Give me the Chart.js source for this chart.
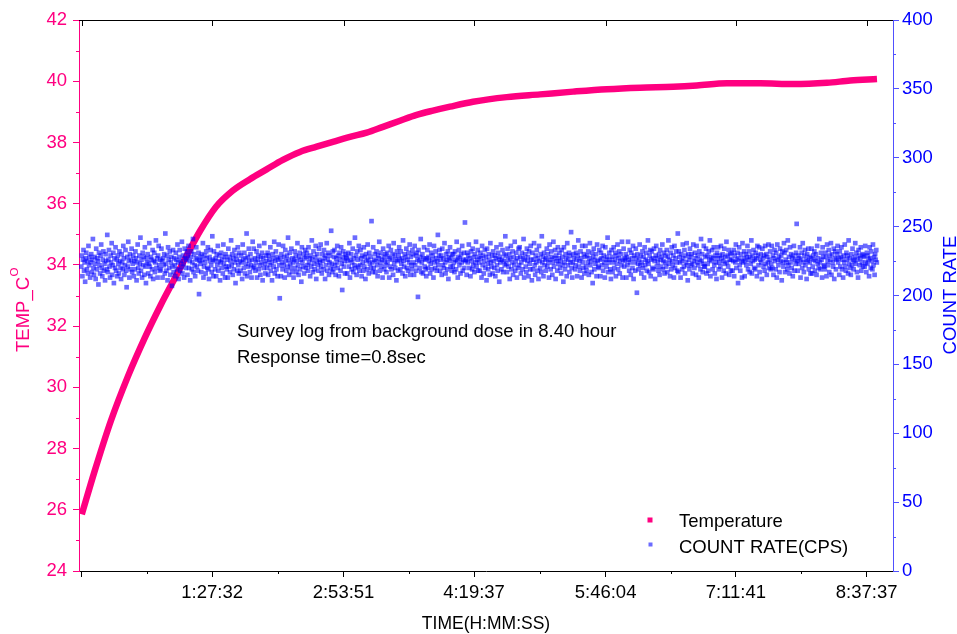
<!DOCTYPE html>
<html>
<head>
<meta charset="utf-8">
<script src="https://cdn.jsdelivr.net/npm/chart.js@4.4.1/dist/chart.umd.min.js"></script>
<style>
  body { margin: 0; background: #fff; }
</style>
</head>
<body>
<canvas id="surveyChart" width="957" height="634"></canvas>
<script>
// temperature readings (time in seconds since start, value in C)
const tempTimes = [110, 612, 1255, 1925, 2584, 3228, 3768, 4242, 4766, 5405, 6069, 6740, 7398, 8041, 8712, 9371,
  10014, 10685, 11344, 11987, 12658, 13317, 13960, 14631, 15538, 16868, 18182, 19484, 20814, 22127, 23430, 24365,
  25548, 26862, 28164, 29494, 30413, 31467];
const tempValues = [25.85, 27.25, 28.9, 30.35, 31.6, 32.7, 33.55, 34.3, 35.1, 35.9, 36.43, 36.8, 37.12, 37.43, 37.69, 37.86,
  38.02, 38.18, 38.32, 38.51, 38.71, 38.9, 39.04, 39.17, 39.33, 39.48, 39.57, 39.66, 39.74, 39.79, 39.82, 39.86,
  39.93, 39.93, 39.91, 39.95, 40.02, 40.07];

// count rate log, one reading every countInterval seconds
const countStart = 90;
const countInterval = 21.8;
const countValues = [
  221,229,214,226,233,218,224,210,227,231,219,225,216,236,222,228,213,224,230,217,226,241,220,215,
  228,223,212,234,219,227,225,208,231,222,216,229,237,220,214,226,232,218,223,211,230,225,219,244,
  217,226,233,221,213,229,224,238,215,222,231,209,227,220,235,218,226,214,229,223,216,232,225,220,
  212,230,224,219,236,227,215,222,233,218,206,228,221,239,225,213,230,219,226,234,217,223,229,214,
  225,219,232,227,211,224,237,220,216,229,223,242,218,226,213,231,222,228,215,235,221,209,227,224,
  230,216,223,238,221,214,228,226,219,233,212,225,231,217,224,240,220,227,213,229,236,222,218,226,
  219,234,225,213,227,222,230,216,245,223,218,229,211,235,226,220,232,215,224,228,207,221,233,217,
  227,222,214,231,226,219,237,224,212,228,233,218,225,221,239,216,229,223,213,234,227,220,226,232,
  215,229,236,220,225,211,228,232,219,224,241,217,230,222,214,227,235,221,226,218,231,201,225,228,
  223,217,230,226,238,213,221,229,224,216,232,227,220,235,219,212,228,225,233,222,217,243,226,214,
  232,225,219,227,214,230,222,236,218,225,229,211,224,231,220,226,216,237,223,228,213,230,221,219,
  226,213,234,221,228,217,225,240,222,230,215,227,219,233,224,209,229,226,218,235,222,216,231,225,
  218,229,224,212,237,226,220,231,216,227,223,245,214,228,221,234,225,217,230,222,213,226,239,220,
  234,221,227,218,224,232,213,226,229,219,236,222,215,228,224,231,211,227,220,238,223,216,229,225,
  220,231,215,229,226,222,235,218,224,211,230,227,221,239,216,225,232,219,228,214,226,237,222,198,
  227,214,230,224,219,236,222,228,213,233,225,218,229,221,242,226,215,231,223,220,234,217,227,224,
  213,226,232,220,229,217,225,238,222,215,228,231,219,226,210,235,224,221,230,216,227,233,220,228,
  231,222,218,235,224,227,214,229,221,240,226,217,232,223,219,228,236,212,225,230,222,218,234,226,
  224,237,221,216,230,225,219,233,227,212,229,222,238,218,226,231,215,224,229,220,247,223,217,232,
  219,228,233,222,215,227,224,236,220,229,214,231,226,218,235,223,204,228,232,221,225,216,230,227,
  228,216,225,231,221,238,213,226,230,219,224,234,217,227,222,242,220,229,215,232,226,221,236,218,
  222,233,227,214,229,224,218,235,221,228,212,230,225,219,237,226,216,231,223,228,220,254,224,217,
  235,220,226,230,217,225,232,222,214,229,227,239,218,224,231,221,226,213,234,228,219,225,230,222,
  217,231,224,228,236,213,227,221,233,219,226,230,215,238,223,229,220,226,211,232,225,218,229,235,
  226,219,232,223,227,216,240,225,221,230,214,228,234,220,226,218,231,224,237,215,228,222,219,233,
  230,224,215,236,222,229,218,231,226,199,233,225,220,228,241,217,224,230,216,227,235,221,226,219,
  214,227,233,220,228,225,237,216,223,231,219,226,229,213,236,224,220,232,227,218,225,244,222,229,
  233,218,226,229,215,234,222,227,220,238,224,216,230,226,219,232,212,228,225,235,221,227,218,230,
  221,230,224,217,232,226,219,239,225,213,228,233,222,227,216,230,224,236,218,226,231,220,253,225,
  226,215,231,224,229,237,220,227,214,232,225,219,234,222,228,217,230,224,239,221,226,233,218,228,
  224,218,231,227,213,236,222,229,216,225,233,220,228,211,234,223,219,230,226,215,238,224,221,229,
  216,232,225,220,229,214,227,235,222,218,231,226,210,228,224,237,219,226,233,217,225,230,222,243,
  229,223,217,234,226,221,230,212,227,236,219,224,232,215,228,222,239,218,225,231,213,227,220,234,
  222,235,228,216,224,231,219,227,241,213,226,230,221,217,234,225,228,214,232,223,219,236,226,211,
  231,219,226,238,222,215,229,224,233,218,227,212,236,225,220,230,217,243,224,228,214,231,222,226,
  218,227,234,221,230,224,213,237,226,219,232,228,215,224,239,221,227,233,212,229,225,218,235,223,
  227,231,220,225,216,233,228,222,210,235,224,219,230,227,214,238,222,226,231,217,229,224,246,220,
  213,224,230,227,235,219,222,231,226,214,229,240,221,225,218,232,227,213,236,224,220,230,216,228,
  236,221,218,229,224,232,215,227,238,222,225,217,231,209,228,234,219,226,223,230,214,237,225,221,
  220,233,226,214,231,227,222,236,218,229,224,213,235,226,221,228,242,217,224,231,226,219,212,233,
  228,217,224,235,220,226,231,214,229,223,237,219,227,232,216,225,230,222,239,213,226,234,221,227,
  225,230,213,228,222,239,226,218,233,224,215,231,227,220,236,212,229,224,218,234,227,202,230,223,
  219,226,237,222,229,216,224,232,220,228,213,235,222,226,231,218,225,240,223,217,229,233,214,226,
  232,220,227,219,234,225,212,229,236,221,227,224,218,230,215,233,226,221,228,237,219,225,231,216,
  224,229,221,233,217,228,240,223,226,214,231,219,235,225,222,229,213,236,220,227,232,224,218,245,
  217,232,228,224,213,230,225,219,237,227,221,233,216,229,224,238,222,211,230,226,219,234,228,222,
  230,223,216,237,225,220,231,227,215,236,224,229,222,213,232,226,219,241,225,230,217,223,236,221,
  221,228,234,216,229,223,218,232,226,240,214,228,225,233,219,227,235,222,216,229,224,212,231,227,
  235,219,224,229,221,236,227,213,230,225,218,234,223,228,216,239,224,229,221,233,215,226,230,218,
  226,231,218,225,233,214,229,224,237,220,226,231,209,227,235,222,218,230,225,213,238,224,227,232,
  214,225,230,222,228,236,219,226,232,217,228,223,240,216,229,225,233,220,226,219,231,227,214,236,
  229,222,235,217,226,230,224,212,234,227,221,229,218,236,223,230,215,228,224,237,220,226,232,219,
  223,236,220,229,215,227,233,225,219,231,213,237,226,222,228,217,234,225,229,211,232,224,221,238,
  231,217,226,233,224,219,240,222,228,216,235,224,230,220,227,214,229,236,218,226,223,231,252,225,
  218,229,223,227,235,213,226,231,220,238,224,217,229,233,222,226,212,230,225,234,219,228,224,216,
  227,234,216,221,229,226,232,218,225,230,215,236,223,227,220,241,224,219,231,226,213,235,228,221,
  222,219,231,228,214,237,225,222,233,217,229,226,238,215,230,224,221,234,212,227,232,219,226,230,
  236,224,227,215,232,221,228,235,219,226,213,229,224,237,221,218,231,226,229,216,240,223,227,220,
  215,230,222,234,226,219,225,228,238,223,231,217,226,213,233,229,222,227,235,218,224,230,221,229,
  228,221,236,224,217,231,223,229,226,214,235,227,220,232,225,219,237,222,228,215,230,226,233,224
];

// x axis ticks (seconds) and their labels
const timeTickValues = [110, 5252, 10431, 15577, 20764, 25901, 31057];
const timeTickLabels = ['', '1:27:32', '2:53:51', '4:19:37', '5:46:04', '7:11:41', '8:37:37'];

const noteLines = ['Survey log from background dose in 8.40 hour', 'Response time=0.8sec'];

const PINK = '#ff0080';
const BLUE = '#0000ff';
const BLUE_AXIS = '#5050ff';
const BLUE_MARK = 'rgba(0,0,255,0.58)';
const FONT = '"Liberation Sans", Arial, sans-serif';

// minor ticks + mirrored top axis
const axisExtras = {
  id: 'axisExtras',
  beforeDatasetsDraw(chart) {
    const { ctx, chartArea: a, scales } = chart;
    const x = scales.x, yT = scales.yTemp, yC = scales.yCount;
    const al = v => Math.round(v) + 0.5;
    ctx.save();
    ctx.lineWidth = 1;

    ctx.strokeStyle = '#000';
    ctx.beginPath();
    ctx.moveTo(a.left, al(a.top));
    ctx.lineTo(a.right, al(a.top));
    timeTickValues.forEach(v => {
      const px = al(x.getPixelForValue(v));
      ctx.moveTo(px, a.top);
      ctx.lineTo(px, a.top + 6);
    });
    for (let i = 0; i < timeTickValues.length - 1; i++) {
      const px = al(x.getPixelForValue((timeTickValues[i] + timeTickValues[i + 1]) / 2));
      ctx.moveTo(px, a.bottom);
      ctx.lineTo(px, a.bottom + 3);
    }
    ctx.stroke();

    ctx.strokeStyle = PINK;
    ctx.beginPath();
    for (let v = 25; v < 42; v += 2) {
      const py = al(yT.getPixelForValue(v));
      ctx.moveTo(a.left - 3, py);
      ctx.lineTo(a.left, py);
    }
    ctx.stroke();

    ctx.strokeStyle = BLUE_AXIS;
    ctx.beginPath();
    for (let v = 25; v < 400; v += 50) {
      const py = al(yC.getPixelForValue(v));
      ctx.moveTo(a.right, py);
      ctx.lineTo(a.right + 3, py);
    }
    ctx.stroke();
    ctx.restore();
  }
};

// texts: note, legend, axis titles
const overlay = {
  id: 'overlay',
  afterDraw(chart) {
    const ctx = chart.ctx;
    ctx.save();
    ctx.textBaseline = 'alphabetic';
    ctx.font = '18.5px ' + FONT;
    ctx.fillStyle = '#000';
    ctx.textAlign = 'left';
    ctx.fillText(noteLines[0], 237, 336.7);
    ctx.fillText(noteLines[1], 237, 362.7);

    ctx.fillText('Temperature', 679, 526.7);
    ctx.fillText('COUNT RATE(CPS)', 679, 552.7);
    ctx.fillStyle = PINK;
    ctx.fillRect(647.5, 517.5, 5, 5);
    ctx.fillStyle = BLUE_MARK;
    ctx.fillRect(648.5, 542.5, 4, 4);

    ctx.fillStyle = '#000';
    ctx.font = '17.5px ' + FONT;
    ctx.textAlign = 'center';
    ctx.fillText('TIME(H:MM:SS)', 486, 629);

    // right title
    ctx.save();
    ctx.translate(956, 295);
    ctx.rotate(-Math.PI / 2);
    ctx.fillStyle = BLUE;
    ctx.font = '18.5px ' + FONT;
    ctx.textAlign = 'center';
    ctx.fillText('COUNT RATE', 0, 0);
    ctx.restore();

    // left title with superscript
    ctx.save();
    ctx.translate(29, 352);
    ctx.rotate(-Math.PI / 2);
    ctx.fillStyle = PINK;
    ctx.font = '18.5px ' + FONT;
    ctx.textAlign = 'left';
    ctx.fillText('TEMP_C', 0, 0);
    const w = ctx.measureText('TEMP_C').width;
    ctx.font = '11.5px ' + FONT;
    ctx.fillText('O', w + 0.5, -11);
    ctx.restore();

    ctx.restore();
  }
};

new Chart(document.getElementById('surveyChart'), {
  type: 'scatter',
  data: {
    datasets: [
      {
        type: 'line',
        label: 'Temperature',
        data: tempTimes.map((t, i) => ({ x: t, y: tempValues[i] })),
        yAxisID: 'yTemp',
        borderColor: PINK,
        backgroundColor: PINK,
        borderWidth: 6.5,
        pointRadius: 0,
        cubicInterpolationMode: 'monotone',
        fill: false,
        order: 2
      },
      {
        label: 'COUNT RATE(CPS)',
        data: countValues.map((v, i) => ({ x: countStart + i * countInterval, y: v })),
        yAxisID: 'yCount',
        pointStyle: 'rect',
        pointRadius: 3.3,
        borderWidth: 0,
        backgroundColor: BLUE_MARK,
        order: 1
      }
    ]
  },
  options: {
    responsive: false,
    animation: false,
    events: [],
    layout: { padding: { top: 20, left: 0, right: 0, bottom: 0 } },
    plugins: { legend: { display: false }, tooltip: { enabled: false } },
    scales: {
      x: {
        type: 'linear',
        position: 'bottom',
        min: 0,
        max: 32098,
        afterBuildTicks: s => { s.ticks = timeTickValues.map(v => ({ value: v })); },
        afterFit: s => { s.height = 63; },
        ticks: {
          callback: (v, i) => timeTickLabels[i],
          color: '#000',
          font: { family: FONT, size: 18.5 },
          padding: 4.5,
          maxRotation: 0,
          autoSkip: false
        },
        grid: { drawOnChartArea: false, tickLength: 6, tickColor: '#000', color: '#000' },
        border: { color: '#000', width: 1 }
      },
      yTemp: {
        position: 'left',
        min: 24,
        max: 42,
        afterFit: s => { s.width = 79; },
        ticks: { stepSize: 2, color: PINK, font: { family: FONT, size: 18.5 }, padding: 6 },
        grid: { drawOnChartArea: false, tickLength: 6, tickColor: PINK, color: PINK },
        border: { color: PINK, width: 1 }
      },
      yCount: {
        position: 'right',
        min: 0,
        max: 400,
        afterFit: s => { s.width = 64; },
        ticks: { stepSize: 50, color: BLUE, font: { family: FONT, size: 18.5 }, padding: 3 },
        grid: { drawOnChartArea: false, tickLength: 6, tickColor: BLUE_AXIS, color: BLUE_AXIS },
        border: { color: BLUE_AXIS, width: 1 }
      }
    }
  },
  plugins: [axisExtras, overlay]
});
</script>
</body>
</html>
